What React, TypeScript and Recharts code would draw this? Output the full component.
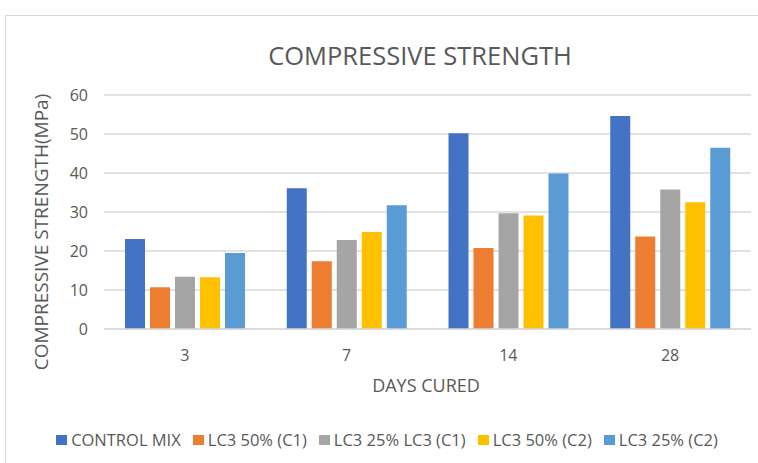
import React from "react";
import { BarChart, Bar, XAxis, YAxis, CartesianGrid } from "recharts";

// Curing ages (days) and strength per mix, MPa
const days = ["3", "7", "14", "28"];
const controlMix = [23.1, 36.1, 50.2, 54.6];
const lc3Half1 = [10.7, 17.4, 20.8, 23.7];
const lc3Quarter1 = [13.4, 22.8, 29.7, 35.8];
const lc3Half2 = [13.3, 24.9, 29.1, 32.5];
const lc3Quarter2 = [19.5, 31.7, 39.9, 46.5];
const yTicks = [0, 10, 20, 30, 40, 50, 60];

const series = [
  { key: "control", name: "CONTROL MIX", color: "#4472C4", values: controlMix },
  { key: "c1half", name: "LC3 50% (C1)", color: "#ED7D31", values: lc3Half1 },
  { key: "c1quarter", name: "LC3 25% LC3 (C1)", color: "#A5A5A5", values: lc3Quarter1 },
  { key: "c2half", name: "LC3 50% (C2)", color: "#FFC000", values: lc3Half2 },
  { key: "c2quarter", name: "LC3 25% (C2)", color: "#5B9BD5", values: lc3Quarter2 },
];

const data = days.map((d, i) => {
  const row: Record<string, string | number> = { day: d };
  series.forEach((s) => (row[s.key] = s.values[i]));
  return row;
});

const FONT = "'Open Sans', sans-serif";
const TEXT = "#595959";
const GRID = "#D9D9D9";

export default function App() {
  return (
    <div style={{ position: "absolute", left: 0, top: 0, width: 758, height: 463, background: "#fff", fontFamily: FONT, overflow: "hidden" }}>
      {/* chart frame */}
      <div style={{ position: "absolute", left: 5, top: 15, width: 753, height: 448, borderLeft: `1px solid ${GRID}`, borderTop: `1px solid ${GRID}` }} />

      <BarChart
        width={758}
        height={463}
        data={data}
        margin={{ top: 95, right: 7, bottom: 104, left: 0 }}
        barCategoryGap={21}
        barGap={5}
        style={{ position: "absolute", left: 0, top: 0 }}
      >
        <CartesianGrid vertical={false} stroke={GRID} strokeWidth={1.5} />
        <XAxis
          dataKey="day"
          height={30}
          tickLine={false}
          tickSize={0}
          tickMargin={21}
          axisLine={{ stroke: GRID, strokeWidth: 1.5 }}
          tick={{ fill: TEXT, fontSize: 16, fontFamily: FONT }}
        />
        <YAxis
          width={104}
          domain={[0, 60]}
          ticks={yTicks}
          interval={0}
          axisLine={false}
          tickLine={false}
          tickSize={0}
          tickMargin={16}
          tick={{ fill: TEXT, fontSize: 16, fontFamily: FONT }}
        />
        {series.map((s) => (
          <Bar key={s.key} dataKey={s.key} name={s.name} fill={s.color} isAnimationActive={false} />
        ))}
      </BarChart>

      {/* title and axis titles */}
      <svg width={758} height={463} style={{ position: "absolute", left: 0, top: 0, pointerEvents: "none" }}>
        <text x={420} y={65} textAnchor="middle" fill={TEXT} fontSize={25.5} fontFamily={FONT}>
          COMPRESSIVE STRENGTH
        </text>
        <text x={48} y={232} transform="rotate(-90 48 232)" textAnchor="middle" fill={TEXT} fontSize={19} fontFamily={FONT}>
          COMPRESSIVE STRENGTH(MPa)
        </text>
        <text x={426} y={392} textAnchor="middle" fill={TEXT} fontSize={18} fontFamily={FONT}>
          DAYS CURED
        </text>
      </svg>

      {/* legend */}
      <div style={{ position: "absolute", left: 14, top: 430, width: 758, display: "flex", justifyContent: "center", alignItems: "center", color: TEXT, fontSize: 16.5, lineHeight: "20px" }}>
        {series.map((s) => (
          <div key={s.key} style={{ display: "flex", alignItems: "center", marginRight: 12 }}>
            <span style={{ display: "inline-block", width: 11, height: 10, background: s.color, marginRight: 4 }} />
            <span>{s.name}</span>
          </div>
        ))}
      </div>
    </div>
  );
}
